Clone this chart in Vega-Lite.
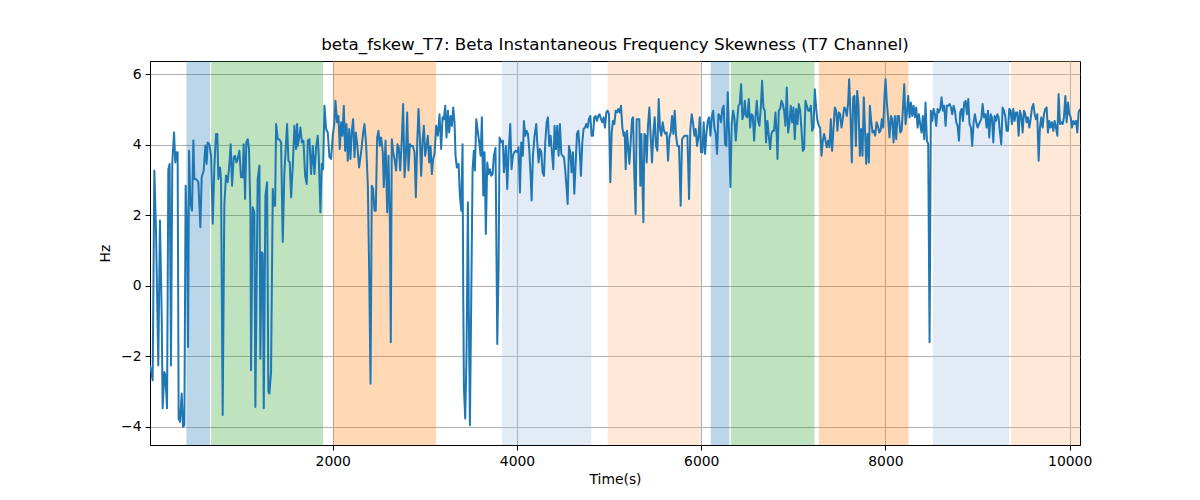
{
  "$schema": "https://vega.github.io/schema/vega-lite/v6.json",
  "width": 930,
  "height": 384,
  "autosize": {"type": "none"},
  "padding": {"left": 150, "top": 61, "right": 120, "bottom": 55},
  "background": "white",
  "title": {"text": "beta_fskew_T7: Beta Instantaneous Frequency Skewness (T7 Channel)", "font": "DejaVu Sans", "fontSize": 16.7, "fontWeight": "normal", "color": "black", "anchor": "middle", "offset": 7},
  "datasets": {
    "bands": [
      {"start": 411, "end": 668, "kind": "A"},
      {"start": 679, "end": 1896, "kind": "B"},
      {"start": 2005, "end": 3123, "kind": "C"},
      {"start": 3836, "end": 4807, "kind": "D"},
      {"start": 4984, "end": 5992, "kind": "E"},
      {"start": 6103, "end": 6306, "kind": "A"},
      {"start": 6321, "end": 7230, "kind": "B"},
      {"start": 7277, "end": 8251, "kind": "C"},
      {"start": 8515, "end": 9344, "kind": "D"},
      {"start": 9363, "end": 10112, "kind": "E"}
    ],
    "series": [
      {"t":16,"v":-2.26},{"t":27,"v":-2.40},{"t":45,"v":-2.68},{"t":63,"v":3.27},{"t":81,"v":1.61},{"t":106,"v":-2.26},{"t":124,"v":1.85},{"t":143,"v":-0.84},{"t":153,"v":-3.48},{"t":172,"v":-2.45},{"t":182,"v":-2.54},{"t":201,"v":-3.48},{"t":215,"v":3.31},{"t":229,"v":3.46},{"t":244,"v":-2.26},{"t":258,"v":3.50},{"t":277,"v":4.35},{"t":291,"v":3.50},{"t":306,"v":3.79},{"t":316,"v":3.79},{"t":327,"v":-3.77},{"t":342,"v":-3.86},{"t":360,"v":-3.06},{"t":374,"v":-4.00},{"t":389,"v":-3.96},{"t":403,"v":2.84},{"t":418,"v":1.61},{"t":429,"v":-1.74},{"t":440,"v":3.83},{"t":454,"v":2.37},{"t":472,"v":2.13},{"t":487,"v":4.12},{"t":497,"v":3.03},{"t":516,"v":3.03},{"t":541,"v":2.94},{"t":563,"v":1.66},{"t":577,"v":3.08},{"t":599,"v":3.27},{"t":617,"v":3.98},{"t":631,"v":3.46},{"t":642,"v":4.07},{"t":660,"v":4.02},{"t":679,"v":3.69},{"t":697,"v":1.76},{"t":715,"v":3.41},{"t":733,"v":4.31},{"t":747,"v":4.31},{"t":758,"v":3.03},{"t":776,"v":3.36},{"t":787,"v":3.03},{"t":805,"v":-3.67},{"t":823,"v":2.28},{"t":841,"v":3.13},{"t":860,"v":2.94},{"t":878,"v":3.46},{"t":892,"v":4.02},{"t":907,"v":2.84},{"t":925,"v":3.65},{"t":939,"v":3.69},{"t":954,"v":3.50},{"t":968,"v":3.60},{"t":986,"v":3.83},{"t":1004,"v":3.08},{"t":1022,"v":3.08},{"t":1033,"v":4.02},{"t":1048,"v":2.46},{"t":1062,"v":4.07},{"t":1077,"v":4.16},{"t":1091,"v":3.88},{"t":1106,"v":2.09},{"t":1113,"v":-2.40},{"t":1131,"v":2.23},{"t":1149,"v":2.09},{"t":1160,"v":-3.44},{"t":1185,"v":3.03},{"t":1204,"v":3.41},{"t":1214,"v":-2.07},{"t":1229,"v":0.95},{"t":1240,"v":0.91},{"t":1251,"v":-3.48},
      {"t":1269,"v":2.56},{"t":1287,"v":2.94},{"t":1301,"v":-3.01},{"t":1312,"v":-3.06},{"t":1330,"v":-2.45},{"t":1349,"v":2.75},{"t":1359,"v":2.27},{"t":1374,"v":2.27},{"t":1385,"v":4.59},{"t":1403,"v":4.16},{"t":1421,"v":4.15},{"t":1439,"v":4.07},{"t":1457,"v":1.24},{"t":1475,"v":3.22},{"t":1493,"v":4.07},{"t":1504,"v":4.59},{"t":1519,"v":3.55},{"t":1533,"v":3.50},{"t":1548,"v":2.51},{"t":1566,"v":3.41},{"t":1584,"v":4.54},{"t":1602,"v":3.88},{"t":1613,"v":4.59},{"t":1620,"v":3.97},{"t":1635,"v":4.21},{"t":1649,"v":4.49},{"t":1664,"v":4.07},{"t":1682,"v":4.12},{"t":1700,"v":3.12},{"t":1718,"v":2.89},{"t":1729,"v":4.12},{"t":1747,"v":4.16},{"t":1765,"v":3.17},{"t":1783,"v":3.97},{"t":1801,"v":3.17},{"t":1819,"v":3.92},{"t":1837,"v":4.26},{"t":1848,"v":3.69},{"t":1866,"v":2.09},{"t":1881,"v":3.46},{"t":1895,"v":3.31},{"t":1910,"v":5.11},{"t":1928,"v":4.45},{"t":1946,"v":4.35},{"t":1964,"v":3.65},{"t":1982,"v":3.60},{"t":2000,"v":4.26},{"t":2018,"v":4.64},{"t":2029,"v":5.25},{"t":2047,"v":4.64},{"t":2062,"v":4.82},{"t":2076,"v":3.88},{"t":2091,"v":4.64},{"t":2105,"v":4.26},{"t":2120,"v":5.11},{"t":2134,"v":3.83},{"t":2149,"v":4.59},{"t":2163,"v":3.55},{"t":2178,"v":4.45},{"t":2192,"v":3.60},{"t":2207,"v":4.40},{"t":2221,"v":4.73},{"t":2236,"v":3.65},{"t":2250,"v":4.35},{"t":2265,"v":4.02},{"t":2286,"v":3.36},{"t":2308,"v":3.79},{"t":2330,"v":4.35},{"t":2344,"v":4.59},{"t":2362,"v":4.02},{"t":2381,"v":2.84},{"t":2395,"v":0.48},{"t":2410,"v":-2.78},{"t":2424,"v":2.84},{"t":2438,"v":2.75},{"t":2453,"v":2.13},{"t":2467,"v":2.13},{"t":2482,"v":4.21},{"t":2496,"v":4.40},{"t":2511,"v":3.97},{"t":2525,"v":4.21},{"t":2543,"v":3.79},{"t":2554,"v":2.80},
      {"t":2573,"v":4.12},{"t":2591,"v":2.09},{"t":2605,"v":3.69},{"t":2620,"v":1.80},{"t":2630,"v":-1.60},{"t":2641,"v":4.16},{"t":2656,"v":3.79},{"t":2670,"v":3.60},{"t":2688,"v":3.27},{"t":2703,"v":4.02},{"t":2717,"v":3.92},{"t":2732,"v":3.27},{"t":2750,"v":4.16},{"t":2764,"v":5.16},{"t":2779,"v":3.08},{"t":2793,"v":3.65},{"t":2808,"v":4.92},{"t":2822,"v":3.27},{"t":2837,"v":4.02},{"t":2851,"v":3.97},{"t":2869,"v":3.97},{"t":2888,"v":3.79},{"t":2902,"v":2.51},{"t":2917,"v":4.07},{"t":2931,"v":5.02},{"t":2946,"v":4.16},{"t":2960,"v":3.12},{"t":2974,"v":4.07},{"t":2989,"v":4.54},{"t":3003,"v":3.69},{"t":3018,"v":3.97},{"t":3032,"v":4.26},{"t":3047,"v":3.50},{"t":3061,"v":3.97},{"t":3076,"v":3.17},{"t":3090,"v":3.60},{"t":3105,"v":3.74},{"t":3123,"v":4.54},{"t":3141,"v":4.26},{"t":3159,"v":4.87},{"t":3177,"v":3.88},{"t":3192,"v":4.78},{"t":3206,"v":4.73},{"t":3221,"v":5.11},{"t":3235,"v":4.21},{"t":3250,"v":4.97},{"t":3264,"v":4.35},{"t":3279,"v":4.82},{"t":3293,"v":4.54},{"t":3308,"v":5.06},{"t":3322,"v":4.64},{"t":3333,"v":3.69},{"t":3347,"v":3.36},{"t":3366,"v":3.46},{"t":3380,"v":2.56},{"t":3395,"v":2.13},{"t":3409,"v":4.02},{"t":3416,"v":-0.08},{"t":3424,"v":-2.92},{"t":3438,"v":-3.77},{"t":3452,"v":-1.97},{"t":3467,"v":2.37},{"t":3478,"v":-1.03},{"t":3489,"v":-3.96},{"t":3503,"v":-0.46},{"t":3518,"v":3.31},{"t":3532,"v":3.83},{"t":3543,"v":3.27},{"t":3558,"v":4.73},{"t":3576,"v":4.35},{"t":3590,"v":4.07},{"t":3605,"v":3.69},{"t":3619,"v":4.78},{"t":3634,"v":2.56},{"t":3648,"v":3.79},{"t":3662,"v":1.47},{"t":3677,"v":3.50},{"t":3691,"v":3.17},{"t":3706,"v":3.31},{"t":3720,"v":3.12},{"t":3735,"v":3.17},{"t":3749,"v":3.69},{"t":3767,"v":3.92},{"t":3786,"v":-1.65},{"t":3800,"v":0.48},{"t":3811,"v":4.21},{"t":3829,"v":4.07},{"t":3847,"v":4.12},{"t":3858,"v":3.22},
      {"t":3865,"v":3.41},{"t":3880,"v":3.97},{"t":3894,"v":2.75},{"t":3909,"v":3.79},{"t":3927,"v":4.59},{"t":3941,"v":3.31},{"t":3956,"v":3.69},{"t":3970,"v":3.79},{"t":3985,"v":3.83},{"t":4003,"v":3.79},{"t":4017,"v":3.93},{"t":4032,"v":2.65},{"t":4046,"v":4.07},{"t":4064,"v":3.69},{"t":4075,"v":4.68},{"t":4090,"v":4.26},{"t":4104,"v":4.40},{"t":4119,"v":4.31},{"t":4133,"v":3.88},{"t":4148,"v":3.12},{"t":4159,"v":2.42},{"t":4173,"v":3.69},{"t":4191,"v":4.26},{"t":4209,"v":4.59},{"t":4220,"v":4.07},{"t":4235,"v":3.50},{"t":4249,"v":3.88},{"t":4264,"v":3.79},{"t":4278,"v":3.22},{"t":4293,"v":3.12},{"t":4307,"v":4.07},{"t":4322,"v":4.64},{"t":4336,"v":4.78},{"t":4350,"v":3.97},{"t":4365,"v":4.26},{"t":4379,"v":3.79},{"t":4394,"v":3.31},{"t":4408,"v":4.54},{"t":4423,"v":3.88},{"t":4437,"v":4.54},{"t":4452,"v":3.69},{"t":4466,"v":4.59},{"t":4481,"v":3.74},{"t":4495,"v":3.69},{"t":4510,"v":3.65},{"t":4524,"v":3.27},{"t":4539,"v":2.75},{"t":4550,"v":2.32},{"t":4564,"v":3.97},{"t":4579,"v":3.79},{"t":4593,"v":3.22},{"t":4608,"v":3.79},{"t":4622,"v":2.61},{"t":4637,"v":3.46},{"t":4651,"v":4.31},{"t":4666,"v":4.40},{"t":4680,"v":3.88},{"t":4694,"v":3.12},{"t":4709,"v":4.07},{"t":4723,"v":4.45},{"t":4738,"v":4.49},{"t":4752,"v":4.59},{"t":4767,"v":4.49},{"t":4781,"v":4.73},{"t":4796,"v":4.82},{"t":4810,"v":4.26},{"t":4825,"v":4.26},{"t":4839,"v":4.78},{"t":4854,"v":4.82},{"t":4868,"v":4.68},{"t":4883,"v":4.82},{"t":4897,"v":4.87},{"t":4912,"v":4.73},{"t":4926,"v":4.64},{"t":4941,"v":4.78},{"t":4955,"v":4.49},{"t":4970,"v":4.92},{"t":4984,"v":4.97},{"t":4999,"v":4.87},{"t":5013,"v":2.94},{"t":5028,"v":4.35},{"t":5042,"v":4.68},{"t":5057,"v":4.59},{"t":5071,"v":4.97},{"t":5086,"v":4.92},{"t":5100,"v":5.02},{"t":5115,"v":4.92},{"t":5129,"v":5.11},{"t":5144,"v":4.49},{"t":5158,"v":4.26},
      {"t":5169,"v":4.35},{"t":5180,"v":3.31},{"t":5194,"v":4.40},{"t":5209,"v":3.88},{"t":5220,"v":3.46},{"t":5234,"v":4.07},{"t":5249,"v":4.73},{"t":5260,"v":4.78},{"t":5274,"v":3.12},{"t":5288,"v":2.04},{"t":5299,"v":4.73},{"t":5314,"v":4.73},{"t":5328,"v":4.73},{"t":5339,"v":2.84},{"t":5350,"v":4.31},{"t":5361,"v":3.03},{"t":5372,"v":1.80},{"t":5383,"v":4.31},{"t":5397,"v":4.26},{"t":5408,"v":3.50},{"t":5422,"v":4.54},{"t":5437,"v":5.06},{"t":5451,"v":4.26},{"t":5466,"v":3.50},{"t":5480,"v":4.31},{"t":5495,"v":4.78},{"t":5509,"v":3.97},{"t":5524,"v":3.83},{"t":5538,"v":5.30},{"t":5553,"v":4.45},{"t":5567,"v":4.26},{"t":5582,"v":4.64},{"t":5596,"v":4.40},{"t":5611,"v":4.31},{"t":5625,"v":4.35},{"t":5640,"v":3.55},{"t":5654,"v":4.21},{"t":5669,"v":4.35},{"t":5683,"v":4.82},{"t":5698,"v":4.31},{"t":5712,"v":4.97},{"t":5727,"v":4.26},{"t":5741,"v":3.97},{"t":5759,"v":3.97},{"t":5777,"v":2.27},{"t":5792,"v":4.16},{"t":5806,"v":4.21},{"t":5821,"v":4.26},{"t":5835,"v":4.26},{"t":5850,"v":4.26},{"t":5868,"v":2.46},{"t":5882,"v":4.45},{"t":5897,"v":4.87},{"t":5911,"v":4.64},{"t":5926,"v":4.26},{"t":5940,"v":4.45},{"t":5955,"v":3.97},{"t":5969,"v":4.21},{"t":5984,"v":4.78},{"t":5998,"v":3.79},{"t":6013,"v":3.79},{"t":6027,"v":4.64},{"t":6042,"v":3.74},{"t":6056,"v":4.31},{"t":6071,"v":4.68},{"t":6085,"v":4.78},{"t":6100,"v":4.26},{"t":6114,"v":4.78},{"t":6129,"v":4.97},{"t":6143,"v":4.49},{"t":6158,"v":4.31},{"t":6172,"v":3.74},{"t":6187,"v":4.87},{"t":6201,"v":4.82},{"t":6216,"v":4.64},{"t":6230,"v":5.02},{"t":6244,"v":5.11},{"t":6259,"v":4.02},{"t":6273,"v":3.97},{"t":6288,"v":5.49},{"t":6302,"v":4.35},{"t":6317,"v":2.80},{"t":6331,"v":4.59},{"t":6346,"v":4.97},{"t":6360,"v":4.78},{"t":6375,"v":4.12},{"t":6389,"v":4.64},{"t":6404,"v":5.11},{"t":6418,"v":5.16},{"t":6433,"v":5.72},{"t":6447,"v":4.73},{"t":6462,"v":4.87},
      {"t":6473,"v":5.25},{"t":6487,"v":4.82},{"t":6502,"v":4.78},{"t":6516,"v":5.30},{"t":6531,"v":4.49},{"t":6545,"v":4.87},{"t":6560,"v":4.82},{"t":6574,"v":4.12},{"t":6589,"v":4.78},{"t":6603,"v":5.25},{"t":6618,"v":4.68},{"t":6632,"v":4.54},{"t":6647,"v":5.06},{"t":6661,"v":5.82},{"t":6675,"v":5.06},{"t":6690,"v":4.97},{"t":6704,"v":4.07},{"t":6719,"v":4.68},{"t":6733,"v":4.26},{"t":6748,"v":3.88},{"t":6762,"v":4.31},{"t":6777,"v":4.40},{"t":6791,"v":4.40},{"t":6806,"v":4.92},{"t":6820,"v":4.26},{"t":6828,"v":3.60},{"t":6842,"v":4.97},{"t":6857,"v":5.02},{"t":6871,"v":5.25},{"t":6885,"v":5.16},{"t":6900,"v":4.97},{"t":6914,"v":4.54},{"t":6929,"v":5.63},{"t":6943,"v":4.35},{"t":6958,"v":4.64},{"t":6972,"v":5.11},{"t":6987,"v":4.64},{"t":7001,"v":5.06},{"t":7016,"v":4.16},{"t":7030,"v":5.02},{"t":7045,"v":4.59},{"t":7059,"v":5.16},{"t":7074,"v":4.97},{"t":7088,"v":4.45},{"t":7103,"v":3.83},{"t":7117,"v":3.88},{"t":7132,"v":5.25},{"t":7146,"v":5.11},{"t":7161,"v":4.97},{"t":7175,"v":4.97},{"t":7190,"v":5.11},{"t":7204,"v":4.40},{"t":7219,"v":4.49},{"t":7233,"v":5.58},{"t":7248,"v":5.02},{"t":7262,"v":4.68},{"t":7277,"v":4.54},{"t":7291,"v":4.49},{"t":7306,"v":3.69},{"t":7320,"v":4.12},{"t":7334,"v":4.31},{"t":7349,"v":4.12},{"t":7363,"v":3.93},{"t":7378,"v":4.12},{"t":7392,"v":3.93},{"t":7407,"v":4.73},{"t":7421,"v":3.83},{"t":7436,"v":4.45},{"t":7450,"v":5.06},{"t":7465,"v":4.97},{"t":7479,"v":4.40},{"t":7494,"v":4.92},{"t":7508,"v":4.87},{"t":7523,"v":4.49},{"t":7537,"v":4.73},{"t":7552,"v":5.06},{"t":7566,"v":5.02},{"t":7581,"v":4.82},{"t":7595,"v":5.20},{"t":7606,"v":5.86},{"t":7621,"v":4.82},{"t":7635,"v":3.50},{"t":7650,"v":5.35},{"t":7664,"v":5.39},{"t":7679,"v":3.97},{"t":7693,"v":5.53},{"t":7707,"v":5.11},{"t":7722,"v":3.69},{"t":7736,"v":4.45},{"t":7751,"v":3.69},{"t":7765,"v":5.35},
      {"t":7791,"v":3.46},{"t":7805,"v":4.31},{"t":7820,"v":3.50},{"t":7831,"v":5.11},{"t":7845,"v":4.68},{"t":7860,"v":4.35},{"t":7874,"v":4.40},{"t":7889,"v":4.26},{"t":7903,"v":4.64},{"t":7918,"v":4.54},{"t":7932,"v":4.35},{"t":7947,"v":4.40},{"t":7961,"v":4.73},{"t":7976,"v":4.49},{"t":7990,"v":5.39},{"t":8001,"v":5.86},{"t":8015,"v":5.20},{"t":8030,"v":4.73},{"t":8044,"v":4.21},{"t":8059,"v":4.82},{"t":8073,"v":4.73},{"t":8088,"v":4.07},{"t":8102,"v":4.82},{"t":8117,"v":4.16},{"t":8131,"v":4.82},{"t":8146,"v":4.82},{"t":8160,"v":4.35},{"t":8175,"v":4.40},{"t":8189,"v":4.97},{"t":8204,"v":5.72},{"t":8218,"v":4.59},{"t":8233,"v":4.92},{"t":8247,"v":5.39},{"t":8262,"v":4.78},{"t":8276,"v":5.20},{"t":8291,"v":4.82},{"t":8305,"v":5.11},{"t":8320,"v":4.78},{"t":8334,"v":5.06},{"t":8349,"v":4.49},{"t":8363,"v":4.87},{"t":8377,"v":4.59},{"t":8392,"v":4.35},{"t":8406,"v":4.82},{"t":8421,"v":4.16},{"t":8435,"v":5.20},{"t":8450,"v":4.12},{"t":8464,"v":4.02},{"t":8479,"v":-1.60},{"t":8493,"v":4.97},{"t":8508,"v":4.68},{"t":8522,"v":5.02},{"t":8537,"v":4.87},{"t":8551,"v":4.54},{"t":8566,"v":5.02},{"t":8580,"v":4.92},{"t":8595,"v":5.02},{"t":8609,"v":5.35},{"t":8624,"v":4.97},{"t":8638,"v":5.11},{"t":8653,"v":4.54},{"t":8667,"v":5.11},{"t":8682,"v":5.11},{"t":8696,"v":5.16},{"t":8711,"v":5.06},{"t":8725,"v":4.87},{"t":8740,"v":5.11},{"t":8754,"v":4.97},{"t":8769,"v":4.64},{"t":8783,"v":4.54},{"t":8798,"v":4.12},{"t":8812,"v":4.92},{"t":8827,"v":5.02},{"t":8841,"v":4.68},{"t":8855,"v":5.20},{"t":8870,"v":5.25},{"t":8884,"v":4.87},{"t":8899,"v":5.30},{"t":8913,"v":4.59},{"t":8928,"v":4.49},{"t":8942,"v":3.97},{"t":8957,"v":4.64},{"t":8971,"v":4.87},{"t":8986,"v":4.64},{"t":9000,"v":4.49},{"t":9015,"v":4.59},
      {"t":9040,"v":4.73},{"t":9055,"v":5.16},{"t":9069,"v":4.78},{"t":9084,"v":4.87},{"t":9098,"v":4.49},{"t":9113,"v":4.97},{"t":9127,"v":4.21},{"t":9142,"v":4.87},{"t":9156,"v":4.78},{"t":9171,"v":4.07},{"t":9185,"v":4.82},{"t":9200,"v":4.68},{"t":9214,"v":4.87},{"t":9228,"v":4.78},{"t":9243,"v":4.35},{"t":9257,"v":4.02},{"t":9272,"v":5.06},{"t":9286,"v":4.97},{"t":9301,"v":4.82},{"t":9315,"v":4.40},{"t":9330,"v":4.40},{"t":9344,"v":5.02},{"t":9359,"v":4.97},{"t":9373,"v":4.59},{"t":9388,"v":5.02},{"t":9402,"v":4.68},{"t":9417,"v":4.92},{"t":9431,"v":4.92},{"t":9446,"v":4.26},{"t":9460,"v":4.97},{"t":9475,"v":4.82},{"t":9489,"v":4.35},{"t":9504,"v":4.97},{"t":9518,"v":4.87},{"t":9533,"v":4.64},{"t":9547,"v":4.78},{"t":9562,"v":4.49},{"t":9576,"v":4.73},{"t":9591,"v":5.06},{"t":9605,"v":5.16},{"t":9620,"v":4.87},{"t":9634,"v":4.73},{"t":9648,"v":4.87},{"t":9663,"v":3.55},{"t":9677,"v":4.49},{"t":9692,"v":4.78},{"t":9706,"v":4.49},{"t":9721,"v":4.87},{"t":9735,"v":5.02},{"t":9750,"v":5.06},{"t":9764,"v":4.35},{"t":9779,"v":4.68},{"t":9793,"v":4.49},{"t":9808,"v":4.64},{"t":9822,"v":4.40},{"t":9837,"v":4.68},{"t":9851,"v":4.49},{"t":9866,"v":4.26},{"t":9880,"v":5.44},{"t":9895,"v":4.59},{"t":9909,"v":4.64},{"t":9924,"v":4.59},{"t":9938,"v":4.78},{"t":9953,"v":5.39},{"t":9967,"v":4.64},{"t":9982,"v":5.20},{"t":9996,"v":4.87},{"t":10011,"v":4.78},{"t":10025,"v":4.49},{"t":10040,"v":4.68},{"t":10054,"v":4.59},{"t":10069,"v":4.68},{"t":10083,"v":4.35},{"t":10097,"v":4.92},{"t":10112,"v":5.02}
    ]
  },
  "layer": [
    {
      "data": {"name": "bands"},
      "mark": {"type": "rect", "opacity": 0.3},
      "encoding": {
        "x": {"field": "start", "type": "quantitative", "scale": {"domain": [16, 10112], "nice": false, "zero": false}, "axis": {"title": "Time(s)", "values": [2000, 4000, 6000, 8000, 10000], "format": "d"}},
        "x2": {"field": "end"},
        "color": {"field": "kind", "type": "nominal", "scale": {"domain": ["A", "B", "C", "D", "E"], "range": ["#1f77b4", "#2ca02c", "#ff7f0e", "#a2c0e1", "#fcb276"]}, "legend": null}
      }
    },
    {
      "data": {"name": "series"},
      "mark": {"type": "line", "color": "#1f77b4", "strokeWidth": 2, "clip": true, "strokeJoin": "round"},
      "encoding": {
        "x": {"field": "t", "type": "quantitative", "scale": {"domain": [16, 10112], "nice": false, "zero": false}},
        "y": {"field": "v", "type": "quantitative", "scale": {"domain": [-4.52, 6.38], "nice": false, "zero": false}, "axis": {"title": "Hz", "values": [-4, -2, 0, 2, 4, 6], "format": "d"}}
      }
    }
  ],
  "config": {
    "view": {"stroke": "black", "strokeWidth": 1},
    "axis": {
      "labelFont": "DejaVu Sans", "labelFontSize": 13.9, "labelColor": "black",
      "titleFont": "DejaVu Sans", "titleFontSize": 13.9, "titleFontWeight": "normal", "titleColor": "black",
      "tickColor": "black", "tickSize": 5, "tickWidth": 1, "labelPadding": 4,
      "domainColor": "black", "domainWidth": 1,
      "grid": true, "gridColor": "#b0b0b0", "gridWidth": 1.1
    },
    "axisX": {"titlePadding": 5},
    "axisY": {"titlePadding": 8}
  }
}
